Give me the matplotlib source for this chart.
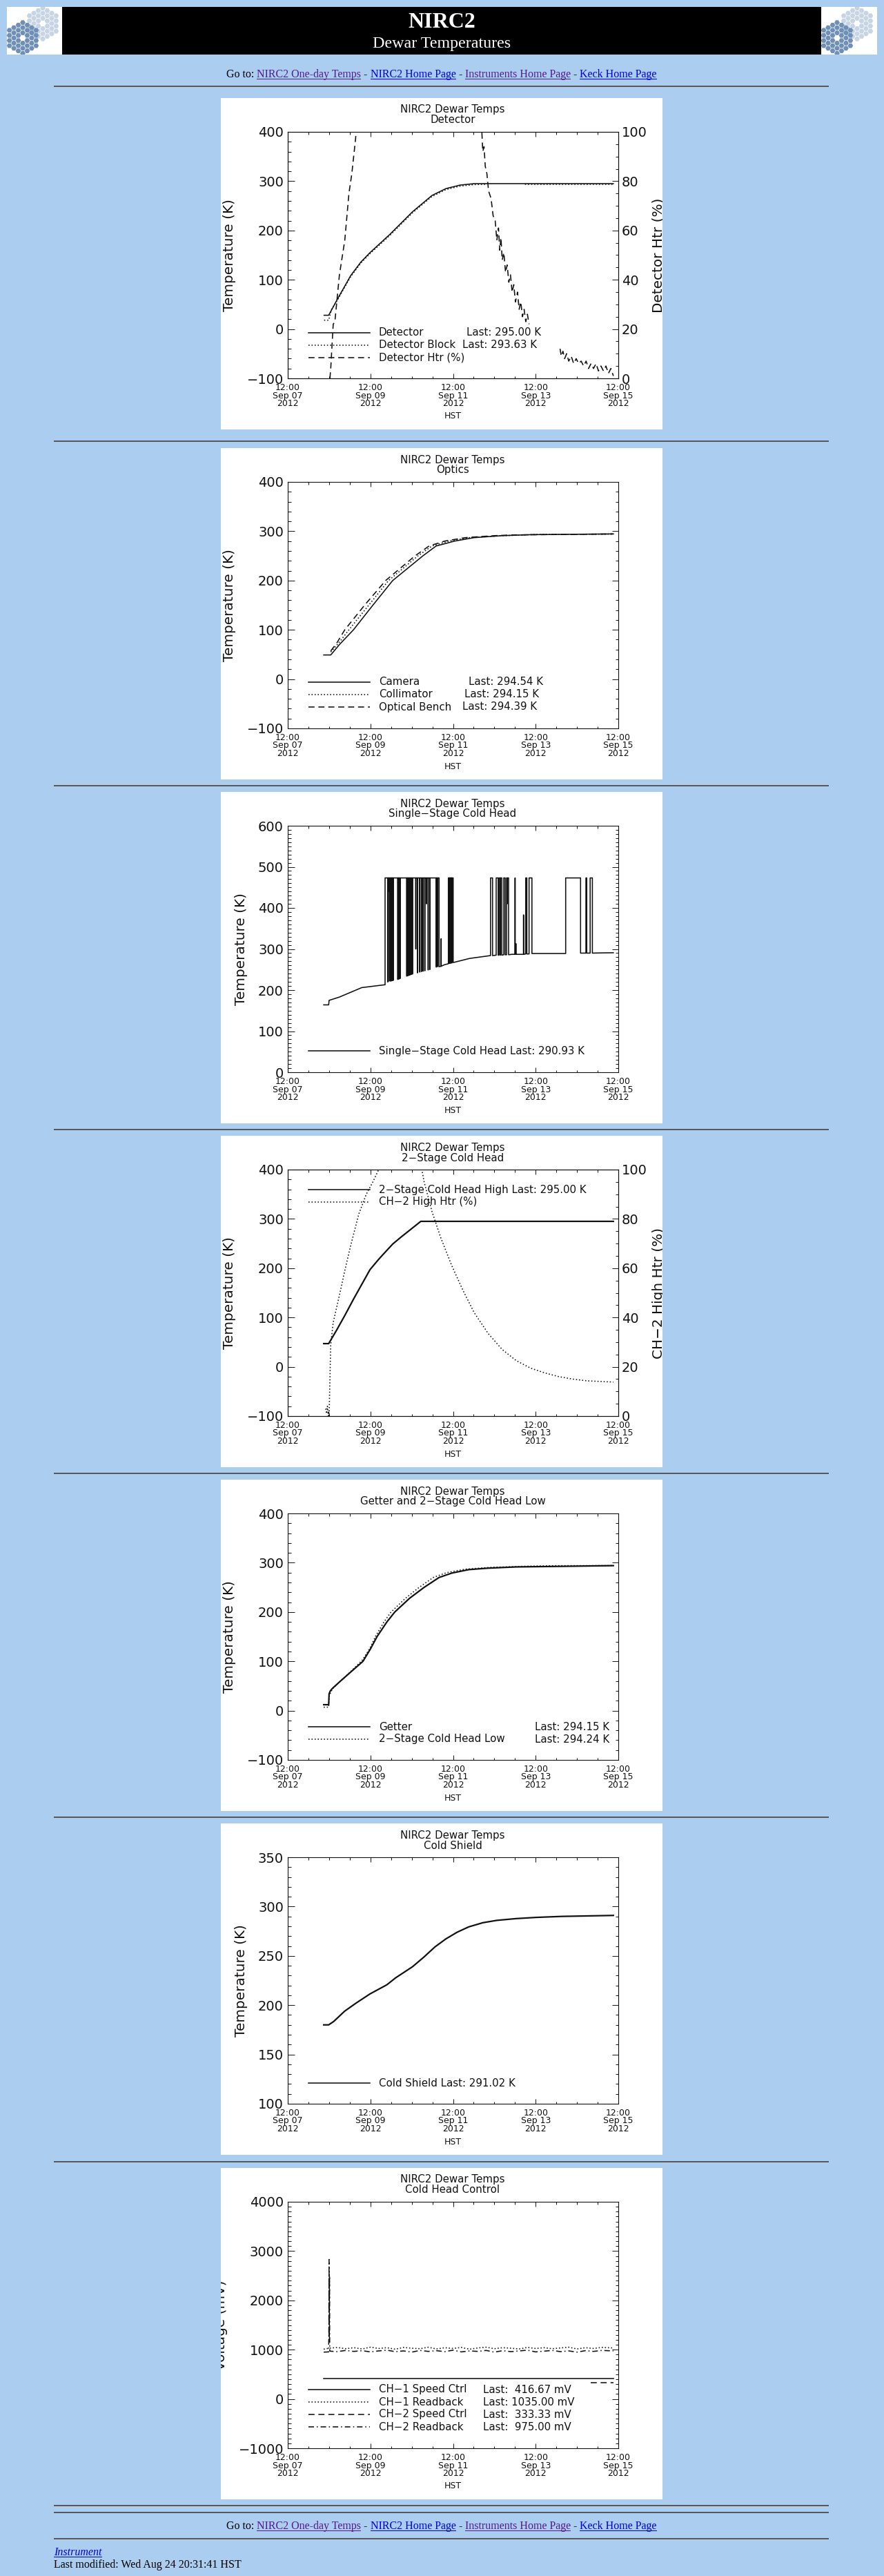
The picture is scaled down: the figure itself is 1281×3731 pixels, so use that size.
import matplotlib
matplotlib.use("Agg")
import matplotlib.pyplot as plt
from matplotlib.patches import Rectangle, RegularPolygon
from matplotlib.lines import Line2D
from matplotlib.ticker import MultipleLocator
from matplotlib.transforms import Bbox, TransformedBbox
import numpy as np

nan = np.nan

# time axis: days since Sep 07 2012 12:00 HST
xtick_days = [0, 2, 4, 6, 8]
xtick_labels = ["12:00\nSep 07\n2012", "12:00\nSep 09\n2012", "12:00\nSep 11\n2012",
                "12:00\nSep 13\n2012", "12:00\nSep 15\n2012"]

# --- Detector ---
det_t = [0.88, 0.99, 1.21, 1.52, 1.77, 1.99, 2.47, 3.02, 3.49, 3.83, 4.17, 4.51, 4.79, 7.88]
det_v = [28, 28, 62, 108, 136, 155, 192, 238, 271, 285, 292, 295, 295, 295]
blk_t = [0.88, 0.99, 1.06, 1.21, 1.52, 1.77, 1.99, 2.47, 3.02, 3.49, 3.83, 4.17, 4.51, 4.79, 5.10, 5.74, 7.88]
blk_v = [18, 18, 40, 60, 106, 134, 153, 190, 236, 269, 283, 290, 293, 293.6, nan, 293.6, 293.6]
htr_t = [1.02, 1.04, 1.10, 1.14, 1.25, 1.38, 1.48, 1.55, 1.64, 1.70,
         4.68, 4.70, 4.72, 4.75, 4.78, 4.82, 4.86, 4.92, 4.97, 5.02, 5.06, 5.10, 5.13, 5.16, 5.19,
         5.23, 5.27, 5.31, 5.35, 5.39, 5.43, 5.47, 5.51, 5.56, 5.60, 5.64, 5.68, 5.72, 5.76, 5.80, 5.84,
         6.20,
         6.59, 6.62, 6.66, 6.70, 6.75, 6.80, 6.86, 6.92, 6.98, 7.04, 7.10, 7.16, 7.22, 7.28, 7.34,
         7.40, 7.46, 7.52, 7.58, 7.64, 7.70, 7.76, 7.82, 7.88]
htr_v = [0, 4, 22, 23, 42, 56, 75, 83, 97, 110,
         108, 99, 92, 94, 86, 83, 76, 73, 66, 64, 56, 61, 52, 57, 48,
         51, 43, 46, 39, 42, 35, 38, 31, 35, 28, 31, 25, 28, 23, 26, 22,
         nan,
         12, 9, 11, 8, 10, 7, 9, 6, 8, 6, 7, 5, 7, 4, 6,
         4, 6, 3, 5, 3, 5, 2, 4, 1]

# --- Optics ---
cam_t = [0.87, 1.04, 1.25, 1.59, 2.06, 2.54, 3.27, 3.59, 4.04, 4.51, 5.19, 5.88, 7.88]
cam_v = [49, 49, 70, 100, 150, 200, 250, 270, 280, 287, 291, 293, 294.5]
col_t = [1.04, 1.25, 1.48, 1.96, 2.44, 3.15, 3.49, 3.90, 4.40, 5.19, 6.10, 7.88]
col_v = [55, 75, 100, 150, 200, 250, 270, 280, 287, 291, 293.5, 294.2]
ben_t = [1.04, 1.20, 1.38, 1.86, 2.37, 3.08, 3.42, 3.80, 4.30, 5.00, 5.50, 7.88]
ben_v = [57, 75, 100, 150, 200, 250, 270, 280, 287, 291, 292.5, 294.4]

# --- Single-Stage Cold Head (baseline, saturated spans at 473 K, dips and spikes) ---
ss_high = 473
ss_base_t = [0.87, 0.99, 1.00, 1.25, 1.79, 2.20, 3.80, 4.40, 5.42, 6.30, 7.15, 7.28, 7.60, 7.88]
ss_base_v = [164, 164, 175, 183, 206, 211, 262, 277, 287, 289, 290, 290, 290.5, 290.9]
ss_span_t0 = [2.355, 3.887, 4.908, 5.044, 5.112, 5.228, 5.296, 5.759, 5.840, 6.726, 7.216, 7.318]
ss_span_t1 = [3.662, 4.003, 4.956, 5.092, 5.180, 5.262, 5.344, 5.786, 5.909, 7.086, 7.236, 7.372]
ss_span_b0 = [213, 264, 284, 285, 285, 286, 286, 288, 288, 289, 290, 290]
ss_span_b1 = [257, 267, 284, 285, 285, 286, 286, 288, 289, 290, 290, 290]
ss_dip_t = [2.417, 2.43, 2.444, 2.471, 2.498, 2.51, 2.526, 2.54, 2.553, 2.662, 2.689, 2.716,
            2.879, 2.907, 2.934, 2.961, 2.988, 3.016, 3.097, 3.138, 3.193, 3.233, 3.274, 3.315,
            3.356, 3.397, 3.438, 3.594, 3.628, 3.907, 3.928, 3.948, 3.969, 5.146, 5.31]
ss_dip_v = [220, 221, 440, 222, 222, 223, 223, 224, 224, 226, 227, 228,
            234, 235, 236, 237, 238, 239, 300, 242, 244, 245, 246, 247,
            410, 249, 250, 256, 257, 265, 265, 266, 266, 285, 410]
ss_spike_t = [3.71, 5.50, 5.52, 5.705]
ss_spike_v = [325, 473, 313, 383]
ss_spike_b = [258, 287, 287, 287]

# --- 2-Stage Cold Head ---
chh_t = [0.87, 0.99, 1.18, 1.38, 1.59, 1.79, 1.99, 2.20, 2.33, 2.54, 2.74, 2.95, 3.22, 7.88]
chh_v = [47, 47, 74, 104, 137, 167, 197, 218, 230, 249, 263, 277, 295, 295]
ch2h_t = [0.92, 0.94, 0.96, 0.98, 0.99, 1.00, 1.04, 1.10, 1.25, 1.38, 1.52, 1.72, 1.90, 2.06, 2.20,
          2.30, 3.20, 3.25, 3.30, 3.49, 3.70, 3.97, 4.24, 4.51, 4.85, 5.19, 5.53, 5.87, 6.22, 6.56,
          6.90, 7.24, 7.88]
ch2h_v = [3, 1, 4, 0, 2, 0, 29, 38, 49, 59, 69, 82, 90, 95, 100,
          105, 104, 99.5, 95, 83, 72.5, 61, 51, 42, 33.5, 27, 22.5, 19.5, 17.5, 16,
          15, 14.3, 13.8]

# --- Getter and 2-Stage Cold Head Low ---
get_t = [0.87, 0.99, 1.00, 1.03, 1.08, 1.25, 1.52, 1.82, 2.00, 2.16, 2.40, 2.59, 2.95, 3.30, 3.66,
         3.97, 4.38, 4.85, 5.53, 6.56, 7.88]
get_v = [12, 12, 34, 40, 45, 58, 78, 100, 125, 150, 180, 200, 228, 250, 270,
         279, 286, 289, 291.5, 292.6, 294.1]
low_t = [0.87, 0.99, 1.00, 1.08, 1.25, 1.52, 1.80, 1.98, 2.12, 2.33, 2.50, 2.85, 3.18, 3.52, 3.85,
         4.30, 4.90, 5.60, 6.10, 6.50, 7.88]
low_v = [7, 7, 30, 44, 58, 79, 102, 125, 150, 180, 200, 228, 250, 270, 280,
         287, 290.5, 292.5, 293.5, 294, 294.2]

# --- Cold Shield ---
cs_t = [0.87, 0.99, 1.11, 1.38, 1.65, 1.99, 2.40, 2.61, 3.02, 3.29, 3.56, 3.83, 4.10, 4.38, 4.72,
        5.06, 5.53, 6.01, 6.62, 7.88]
cs_v = [180, 180, 183.4, 194, 202, 211.4, 220.7, 227.7, 239, 248.6, 259, 267.3, 274, 279.4, 283.6,
        286, 287.8, 289, 290, 291]

# --- Cold Head Control ---
ch1s_t = [0.87, 7.88]
ch1s_v = [416.67, 416.67]
ch1r_t = [0.87, 1.0, 1.2, 1.4, 1.6, 1.8, 2.0, 2.2, 2.4, 2.6, 2.8, 3.0, 3.2, 3.4, 3.6, 3.8, 4.0, 4.2,
          4.4, 4.6, 4.8, 5.0, 5.2, 5.4, 5.6, 5.8, 6.0, 6.2, 6.4, 6.6, 6.8, 7.0, 7.2, 7.4, 7.6, 7.88]
ch1r_v = [1010, 1030, 1045, 1020, 1040, 1015, 1050, 1025, 1040, 1010, 1045, 1030, 1020, 1050,
          1015, 1040, 1025, 1045, 1010, 1035, 1050, 1020, 1040, 1030, 1015, 1045, 1025, 1040,
          1020, 1035, 1050, 1015, 1040, 1025, 1045, 1035]
ch2s_t = [7.34, 7.88]
ch2s_v = [333.33, 333.33]
ch2r_t = [0.87, 0.99, 0.995, 1.0, 1.005, 1.01, 1.015, 1.02, 1.2, 1.4, 1.6, 1.8, 2.0, 2.2, 2.4, 2.6,
          2.8, 3.0, 3.2, 3.4, 3.6, 3.8, 4.0, 4.2, 4.4, 4.6, 4.8, 5.0, 5.2, 5.4, 5.6, 5.8, 6.0, 6.2,
          6.4, 6.6, 6.8, 7.0, 7.2, 7.4, 7.6, 7.88]
ch2r_v = [950, 955, 1400, 2830, 1200, 2500, 1000, 970, 960, 985, 965, 980, 955, 975, 990, 960,
          975, 950, 985, 965, 980, 960, 990, 955, 975, 965, 985, 950, 980, 960, 975, 990, 955, 970,
          985, 960, 975, 950, 980, 965, 985, 975]


def build_single_stage():
    events = []
    for t, v in zip(ss_base_t, ss_base_v):
        events.append((t, [(t, v)]))
    for t0, t1, b0, b1 in zip(ss_span_t0, ss_span_t1, ss_span_b0, ss_span_b1):
        events.append((t0, [(t0, b0), (t0, ss_high)]))
        events.append((t1, [(t1, ss_high), (t1, b1)]))
    for t, v in zip(ss_dip_t, ss_dip_v):
        events.append((t, [(t, ss_high), (t, v), (t + 0.003, v), (t + 0.003, ss_high)]))
    for t, v, b in zip(ss_spike_t, ss_spike_v, ss_spike_b):
        events.append((t, [(t, b), (t, v), (t + 0.003, v), (t + 0.003, b)]))
    events.sort(key=lambda e: e[0])
    pts = [p for e in events for p in e[1]]
    return [p[0] for p in pts], [p[1] for p in pts]


# ---------------- page layout ----------------
W, H = 1281, 3731
BG = "#abcdf0"
INK = "#111111"
PLOT_FONT = "DejaVu Sans"
HTML_FONT = "Liberation Serif"
PX, PW, PH = 320, 640, 480
AX_L, AX_R, AX_T, AX_B = 97, 576, 49, 406
panel_tops = [142, 649, 1147, 1645, 2143, 2641, 3140]
hr_ys = [124, 638, 1137, 1635, 2133, 2631, 3130, 3628, 3638, 3676]
LW = 1.15
BOLD = 1.6
SOLID = "-"
DOT = (0, (1, 1.8))
DASH = (0, (5.5, 3.5))
DASHDOT = (0, (5, 2.5, 1, 2.5))
TICK_PX = 19.5
XTICK_PX = 12.5
LAB_PX = 20


def pt(px):
    return px * 0.72


def fx(x):
    return x / W


def fy(y):
    return 1 - y / H


fig = plt.figure(figsize=(W / 100, H / 100), dpi=100)
fig.patch.set_facecolor(BG)


def rect(x, y, w, h, color, z=-5):
    fig.patches.append(Rectangle((fx(x), fy(y + h)), w / W, h / H, transform=fig.transFigure,
                                 figure=fig, color=color, lw=0, zorder=z))


def keck_logo(x, y, w, h):
    lax = fig.add_axes([fx(x), fy(y + h), w / W, h / H])
    lax.set_xlim(0, w)
    lax.set_ylim(h, 0)
    lax.axis("off")
    lax.add_patch(Rectangle((0, 0), w, h, color="white", lw=0))
    s = 4.3
    for cx, cy, col in [(52, 24, "#c6d4e4"), (23, 45, "#6f8fb6")]:
        for q in range(-3, 4):
            for r in range(-3, 4):
                if max(abs(q), abs(r), abs(q + r)) > 3 or (q == 0 and r == 0):
                    continue
                hx = cx + 1.5 * s * q
                hy = cy + np.sqrt(3) * s * (r + q / 2)
                lax.add_patch(RegularPolygon((hx, hy), 6, radius=s * 0.9, orientation=np.pi / 6,
                                             color=col, lw=0))


# header
rect(90, 10, 1100, 69, "black")
keck_logo(10, 10, 80, 69)
keck_logo(1190, 10, 81, 69)
fig.text(fx(640), fy(33), "NIRC2", fontsize=pt(32), weight="bold", color="white",
         family=HTML_FONT, ha="center", va="center")
fig.text(fx(640), fy(63), "Dewar Temperatures", fontsize=pt(24), color="white",
         family=HTML_FONT, ha="center", va="center")

renderer = fig.canvas.get_renderer()


def text_width(s, size, style="normal"):
    t1 = fig.text(0, 0, s + "|", fontsize=pt(size), family=HTML_FONT, style=style)
    t2 = fig.text(0, 0, "|", fontsize=pt(size), family=HTML_FONT, style=style)
    w = t1.get_window_extent(renderer).width - t2.get_window_extent(renderer).width
    t1.remove()
    t2.remove()
    return w


PURPLE, BLUE = "#551a8b", "#0000ee"
goto_pieces = [("Go to: ", "black", False), ("NIRC2 One-day Temps", PURPLE, True), (" - ", "black", False),
               ("NIRC2 Home Page", BLUE, True), (" - ", "black", False),
               ("Instruments Home Page", PURPLE, True), (" - ", "black", False),
               ("Keck Home Page", BLUE, True)]


def goto_line(base_y):
    full = "".join(p[0] for p in goto_pieces)
    x0 = 640 - text_width(full, 16) / 2
    prefix = ""
    for s, col, link in goto_pieces:
        xs = x0 + (text_width(prefix, 16) if prefix else 0)
        fig.text(fx(xs), fy(base_y), s, fontsize=pt(16), family=HTML_FONT, color=col, va="baseline")
        if link:
            rect(xs, base_y + 2, text_width(s, 16), 1.3, col)
        prefix += s


goto_line(112)
for y in hr_ys:
    rect(78, y, 1123, 2, "#585858")
goto_line(3663)
fig.text(fx(78), fy(3701), "Instrument", fontsize=pt(16), family=HTML_FONT, style="italic",
         color=BLUE, va="baseline")
rect(78, 3703, text_width("Instrument", 16, "italic"), 1.3, BLUE)
fig.text(fx(78), fy(3719), "Last modified: Wed Aug 24 20:31:41 HST", fontsize=pt(16),
         family=HTML_FONT, color="black", va="baseline")


def panel_clip(top):
    bb = Bbox.from_bounds(fx(PX), fy(top + PH), PW / W, PH / H)
    return TransformedBbox(bb, fig.transFigure)


def side_label(top, x_rel, s):
    t = fig.text(fx(PX + x_rel), fy(top + (AX_T + AX_B) / 2), s, fontsize=pt(LAB_PX), family=PLOT_FONT,
                 color=INK, rotation=90, ha="center", va="center")
    t.set_clip_box(panel_clip(top))
    t.set_clip_on(True)


def make_panel(top, subtitle, ylim, major, minor, ylabel, ylabel_x, twin=None):
    rect(PX, top, PW, PH, "white")
    ax = fig.add_axes([fx(PX + AX_L), fy(top + AX_B), (AX_R - AX_L) / W, (AX_B - AX_T) / H])
    ax.set_facecolor("white")
    ax.set_xlim(0, 8)
    ax.set_ylim(*ylim)
    ax.set_xticks(xtick_days)
    ax.set_xticklabels(xtick_labels, fontsize=pt(XTICK_PX), linespacing=0.85, family=PLOT_FONT, color=INK)
    ax.xaxis.set_minor_locator(MultipleLocator(0.5))
    ax.yaxis.set_major_locator(MultipleLocator(major))
    ax.yaxis.set_minor_locator(MultipleLocator(minor))
    ax.tick_params(axis="x", which="major", direction="in", length=pt(7), top=True, pad=pt(7),
                   width=0.7, color=INK)
    ax.tick_params(axis="x", which="minor", direction="in", length=pt(3.5), top=True, width=0.7, color=INK)
    ax.tick_params(axis="y", which="major", direction="in", length=pt(9.5), right=twin is None,
                   labelsize=pt(TICK_PX), pad=pt(6), width=0.7, color=INK, labelcolor=INK)
    ax.tick_params(axis="y", which="minor", direction="in", length=pt(4.5), right=twin is None,
                   width=0.7, color=INK)
    for lab in ax.get_yticklabels():
        lab.set_family(PLOT_FONT)
    for sp in ax.spines.values():
        sp.set_linewidth(0.8)
        sp.set_color(INK)
    side_label(top, ylabel_x, ylabel)
    fig.text(fx(PX + 336), fy(top + 17), "NIRC2 Dewar Temps", fontsize=pt(15), family=PLOT_FONT,
             color=INK, ha="center", va="center")
    fig.text(fx(PX + 336), fy(top + 32), subtitle, fontsize=pt(15), family=PLOT_FONT,
             color=INK, ha="center", va="center")
    fig.text(fx(PX + 336), fy(top + 461), "HST", fontsize=pt(12.5), family=PLOT_FONT,
             color=INK, ha="center", va="center")
    ax2 = None
    if twin is not None:
        ax2 = ax.twinx()
        ax2.set_ylim(0, 100)
        ax2.yaxis.set_major_locator(MultipleLocator(20))
        ax2.yaxis.set_minor_locator(MultipleLocator(5))
        ax2.tick_params(axis="y", which="major", direction="in", length=pt(9.5), labelsize=pt(TICK_PX),
                        pad=pt(5), width=0.7, color=INK, labelcolor=INK)
        ax2.tick_params(axis="y", which="minor", direction="in", length=pt(4.5), width=0.7, color=INK)
        for sp in ax2.spines.values():
            sp.set_linewidth(0.8)
            sp.set_color(INK)
        side_label(top, 634, twin)
    return ax, ax2


def legend(top, rows):
    # rows: (y_rel, linestyle, name, last_text, last_x, last_ha)
    for y_rel, ls, name, last, lx, lha in rows:
        y = top + y_rel
        fig.lines.append(Line2D([fx(PX + 127), fx(PX + 216)], [fy(y), fy(y)], transform=fig.transFigure,
                                color=INK, lw=LW, linestyle=ls))
        fig.text(fx(PX + 229), fy(y), name, fontsize=pt(15), family=PLOT_FONT, color=INK,
                 ha="left", va="center")
        if last:
            fig.text(fx(PX + lx), fy(y), last, fontsize=pt(15), family=PLOT_FONT, color=INK,
                     ha=lha, va="center")


# 1. Detector
top = panel_tops[0]
ax, ax2 = make_panel(top, "Detector", (-100, 400), 100, 20, "Temperature (K)", 13,
                     twin="Detector Htr (%)")
ax.plot(det_t, det_v, color=INK, lw=LW, ls=SOLID)
ax.plot(blk_t, blk_v, color=INK, lw=LW, ls=DOT)
ax2.plot(htr_t, htr_v, color=INK, lw=LW, ls=DASH)
legend(top, [(340, SOLID, "Detector", "Last: 295.00 K", 356, "left"),
             (358, DOT, "Detector Block", "Last: 293.63 K", 350, "left"),
             (376, DASH, "Detector Htr (%)", None, 0, "left")])

# 2. Optics
top = panel_tops[1]
ax, _ = make_panel(top, "Optics", (-100, 400), 100, 20, "Temperature (K)", 13)
ax.plot(cam_t, cam_v, color=INK, lw=LW, ls=SOLID)
ax.plot(col_t, col_v, color=INK, lw=LW, ls=DOT)
ax.plot(ben_t, ben_v, color=INK, lw=LW, ls=DASH)
legend(top, [(339, SOLID, "Camera", "Last: 294.54 K", 359, "left"),
             (357, DOT, "Collimator", "Last: 294.15 K", 353, "left"),
             (375, DASH, "Optical Bench", "Last: 294.39 K", 350, "left")])

# 3. Single-Stage Cold Head
top = panel_tops[2]
ax, _ = make_panel(top, "Single\u2212Stage Cold Head", (0, 600), 100, 10, "Temperature (K)", 29)
ss_t, ss_v = build_single_stage()
ax.plot(ss_t, ss_v, color=INK, lw=LW, ls=SOLID)
legend(top, [(375, SOLID, "Single\u2212Stage Cold Head Last: 290.93 K", None, 0, "left")])

# 4. 2-Stage Cold Head
top = panel_tops[3]
ax, ax2 = make_panel(top, "2\u2212Stage Cold Head", (-100, 400), 100, 20, "Temperature (K)", 13,
                     twin="CH\u22122 High Htr (%)")
ax.plot(chh_t, chh_v, color=INK, lw=BOLD, ls=SOLID)
ax2.plot(ch2h_t, ch2h_v, color=INK, lw=LW, ls=DOT)
legend(top, [(78, SOLID, "2\u2212Stage Cold Head High Last: 295.00 K", None, 0, "left"),
             (96, DOT, "CH\u22122 High Htr (%)", None, 0, "left")])

# 5. Getter and 2-Stage Cold Head Low
top = panel_tops[4]
ax, _ = make_panel(top, "Getter and 2\u2212Stage Cold Head Low", (-100, 400), 100, 20,
                   "Temperature (K)", 13)
ax.plot(get_t, get_v, color=INK, lw=BOLD, ls=SOLID)
ax.plot(low_t, low_v, color=INK, lw=LW, ls=DOT)
legend(top, [(358, SOLID, "Getter", "Last: 294.15 K", 563, "right"),
             (376, DOT, "2\u2212Stage Cold Head Low", "Last: 294.24 K", 563, "right")])

# 6. Cold Shield
top = panel_tops[5]
ax, _ = make_panel(top, "Cold Shield", (100, 350), 50, 10, "Temperature (K)", 29)
ax.plot(cs_t, cs_v, color=INK, lw=BOLD, ls=SOLID)
legend(top, [(376, SOLID, "Cold Shield Last: 291.02 K", None, 0, "left")])

# 7. Cold Head Control
top = panel_tops[6]
ax, _ = make_panel(top, "Cold Head Control", (-1000, 4000), 1000, 100, "Voltage (mV)", 1)
ax.plot(ch1s_t, ch1s_v, color=INK, lw=LW, ls=SOLID)
ax.plot(ch1r_t, ch1r_v, color=INK, lw=LW, ls=DOT)
ax.plot(ch2s_t, ch2s_v, color=INK, lw=LW, ls=DASH)
ax.plot(ch2r_t, ch2r_v, color=INK, lw=LW, ls=DASHDOT)
legend(top, [(321, SOLID, "CH\u22121 Speed Ctrl", "Last:  416.67 mV", 380, "left"),
             (339, DOT, "CH\u22121 Readback", "Last: 1035.00 mV", 380, "left"),
             (357, DASH, "CH\u22122 Speed Ctrl", "Last:  333.33 mV", 380, "left"),
             (375, DASHDOT, "CH\u22122 Readback", "Last:  975.00 mV", 380, "left")])

fig.savefig("out.png", dpi=100, facecolor=BG)
